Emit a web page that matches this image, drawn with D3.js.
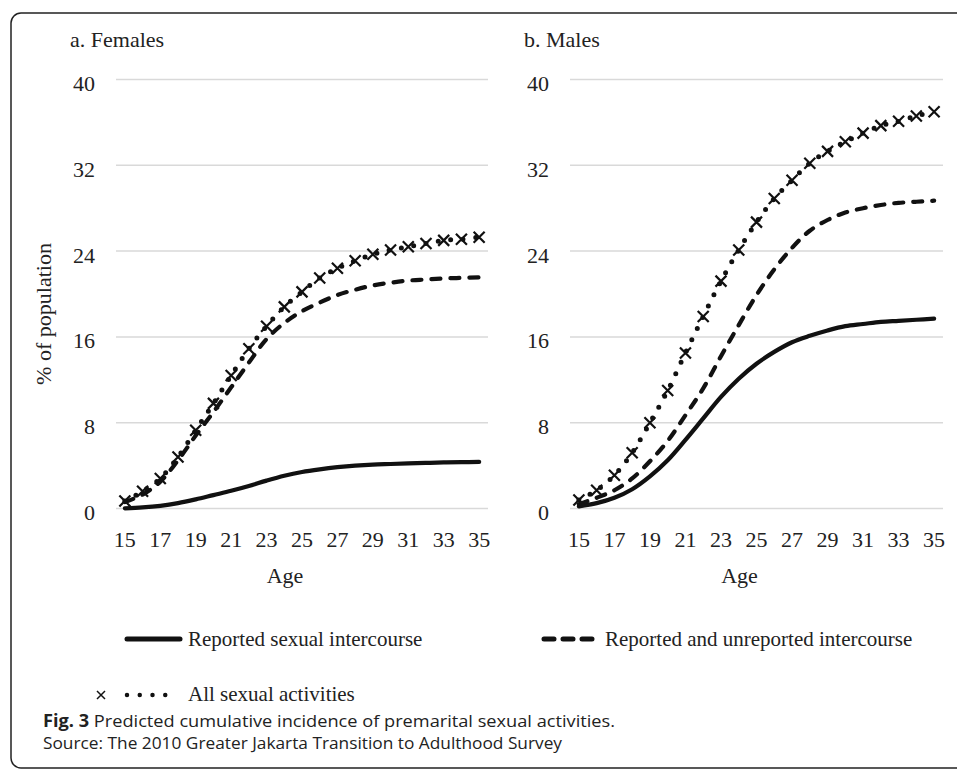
<!DOCTYPE html>
<html>
<head>
<meta charset="utf-8">
<script src="https://cdn.jsdelivr.net/npm/d3@7"></script>
<style>
  body { margin: 0; background: #fff; }
  svg text { font-family: "Liberation Serif", "Times New Roman", serif; fill: #222; }
</style>
</head>
<body>
<svg id="chart" width="957" height="770"></svg>
<script>
// ages on the x axis, and the ones that get a label
const ages = [15,16,17,18,19,20,21,22,23,24,25,26,27,28,29,30,31,32,33,34,35];
const ageLabels = [15,17,19,21,23,25,27,29,31,33,35];
const yTicks = [0,8,16,24,32,40];

// a. Females
const femaleReported = [0.02,0.1,0.25,0.5,0.85,1.25,1.65,2.1,2.6,3.05,3.4,3.65,3.85,4.0,4.1,4.15,4.2,4.25,4.3,4.32,4.35];
const femaleUnreported = [0.6,1.3,2.5,4.5,6.8,9.0,11.3,13.6,15.8,17.3,18.4,19.2,19.9,20.4,20.8,21.05,21.25,21.35,21.45,21.5,21.55];
const femaleAll = [0.7,1.6,2.8,4.8,7.3,9.8,12.4,14.9,17.0,18.8,20.2,21.5,22.4,23.1,23.7,24.1,24.4,24.7,25.0,25.1,25.3];

// b. Males
const maleReported = [0.2,0.5,1.0,1.8,3.0,4.5,6.4,8.4,10.4,12.1,13.5,14.6,15.5,16.1,16.6,17.0,17.2,17.4,17.5,17.6,17.7];
const maleUnreported = [0.4,1.0,1.7,2.8,4.4,6.3,8.7,11.2,14.2,17.1,19.9,22.3,24.3,25.9,26.9,27.6,28.0,28.3,28.5,28.6,28.7];
const maleAll = [0.8,1.7,3.1,5.2,8.0,11.0,14.5,17.9,21.2,24.1,26.7,28.9,30.6,32.2,33.3,34.2,35.0,35.7,36.1,36.6,37.0];

const legendLabels = ["Reported sexual intercourse", "Reported and unreported intercourse", "All sexual activities"];

let svg = d3.select("#chart");

// rounded frame around the figure
svg.append("rect")
  .attr("x", 11).attr("y", 13)
  .attr("width", 1000).attr("height", 755)
  .attr("rx", 10)
  .attr("fill", "none")
  .attr("stroke", "#222")
  .attr("stroke-width", 1.5);

let panels = [
  { title: "a. Females", left: 116, right: 488, reported: femaleReported, unreported: femaleUnreported, all: femaleAll, yLabel: true },
  { title: "b. Males", left: 570, right: 943, reported: maleReported, unreported: maleUnreported, all: maleAll, yLabel: false }
];

let y = d3.scaleLinear().domain([0, 40]).range([508.5, 79.5]);

function drawPanel(p) {
  let x = d3.scaleBand().domain(ages).range([p.left, p.right]);
  let cx = function(i) { return x(ages[i]) + x.bandwidth() / 2; };
  let g = svg.append("g");

  g.append("text")
    .attr("x", p.left - 46)
    .attr("y", 47)
    .attr("font-size", 22)
    .text(p.title);

  // gridlines
  g.selectAll(".grid")
    .data(yTicks)
    .enter().append("line")
    .attr("class", "grid")
    .attr("x1", p.left).attr("x2", p.right)
    .attr("y1", d => y(d)).attr("y2", d => y(d))
    .attr("stroke", "#d9d9d9")
    .attr("stroke-width", 1.5);

  let yAxis = g.append("g")
    .attr("transform", "translate(" + p.left + ",0)")
    .call(d3.axisLeft(y).tickValues(yTicks).tickSize(0).tickPadding(21));
  yAxis.select(".domain").remove();
  yAxis.attr("font-family", null).attr("font-size", 22);
  yAxis.selectAll("text").attr("dy", "0.5em");

  let xAxis = g.append("g")
    .attr("transform", "translate(0," + y(0) + ")")
    .call(d3.axisBottom(x).tickValues(ageLabels).tickSize(0).tickPadding(22.5));
  xAxis.select(".domain").remove();
  xAxis.attr("font-family", null).attr("font-size", 22);

  g.append("text")
    .attr("x", (p.left + p.right) / 2 - 17)
    .attr("y", 583)
    .attr("text-anchor", "middle")
    .attr("font-size", 22)
    .text("Age");

  if (p.yLabel) {
    g.append("text")
      .attr("transform", "translate(51,314) rotate(-90)")
      .attr("text-anchor", "middle")
      .attr("font-size", 22)
      .text("% of population");
  }

  let line = d3.line()
    .x((d, i) => cx(i))
    .y(d => y(d))
    .curve(d3.curveCatmullRom.alpha(0.5));

  g.append("path")
    .attr("d", line(p.reported))
    .attr("fill", "none")
    .attr("stroke", "#111")
    .attr("stroke-width", 4.2)
    .attr("stroke-linecap", "round");

  g.append("path")
    .attr("d", line(p.unreported))
    .attr("fill", "none")
    .attr("stroke", "#111")
    .attr("stroke-width", 4.2)
    .attr("stroke-linecap", "round")
    .attr("stroke-dasharray", "9,10");

  g.append("path")
    .attr("d", line(p.all))
    .attr("fill", "none")
    .attr("stroke", "#111")
    .attr("stroke-width", 5)
    .attr("stroke-linecap", "round")
    .attr("stroke-dasharray", "0,12.5");

  // x markers on the "all" series
  g.selectAll(".mark")
    .data(p.all)
    .enter().append("path")
    .attr("class", "mark")
    .attr("transform", (d, i) => "translate(" + cx(i) + "," + y(d) + ")")
    .attr("d", "M-5.5,-5.5L5.5,5.5M-5.5,5.5L5.5,-5.5")
    .attr("stroke", "#111")
    .attr("stroke-width", 2.2);
}

panels.forEach(drawPanel);

// legend
let legend = svg.append("g");

legend.append("line")
  .attr("x1", 127).attr("x2", 180).attr("y1", 639).attr("y2", 639)
  .attr("stroke", "#111").attr("stroke-width", 5).attr("stroke-linecap", "round");
legend.append("text")
  .attr("x", 188).attr("y", 646).attr("font-size", 21)
  .text(legendLabels[0]);

legend.append("line")
  .attr("x1", 544).attr("x2", 592).attr("y1", 639).attr("y2", 639)
  .attr("stroke", "#111").attr("stroke-width", 5).attr("stroke-linecap", "round")
  .attr("stroke-dasharray", "10,9");
legend.append("text")
  .attr("x", 605).attr("y", 646).attr("font-size", 21)
  .text(legendLabels[1]);

legend.append("path")
  .attr("transform", "translate(101,695)")
  .attr("d", "M-4,-4L4,4M-4,4L4,-4")
  .attr("stroke", "#111").attr("stroke-width", 1.5);
legend.append("line")
  .attr("x1", 127).attr("x2", 178).attr("y1", 695).attr("y2", 695)
  .attr("stroke", "#111").attr("stroke-width", 4.5).attr("stroke-linecap", "round")
  .attr("stroke-dasharray", "0,12.75");
legend.append("text")
  .attr("x", 188).attr("y", 701).attr("font-size", 21)
  .text(legendLabels[2]);

// caption
let caption = svg.append("text")
  .attr("x", 43).attr("y", 727)
  .style("font-family", "'Open Sans', 'Noto Sans', sans-serif")
  .attr("font-size", 17)
  .attr("textLength", 572)
  .attr("lengthAdjust", "spacingAndGlyphs");
caption.append("tspan").attr("font-weight", "bold").text("Fig. 3");
caption.append("tspan").text(" Predicted cumulative incidence of premarital sexual activities.");

svg.append("text")
  .attr("x", 43).attr("y", 749)
  .style("font-family", "'Open Sans', 'Noto Sans', sans-serif")
  .attr("font-size", 17)
  .attr("textLength", 519)
  .attr("lengthAdjust", "spacingAndGlyphs")
  .text("Source: The 2010 Greater Jakarta Transition to Adulthood Survey");
</script>
</body>
</html>
